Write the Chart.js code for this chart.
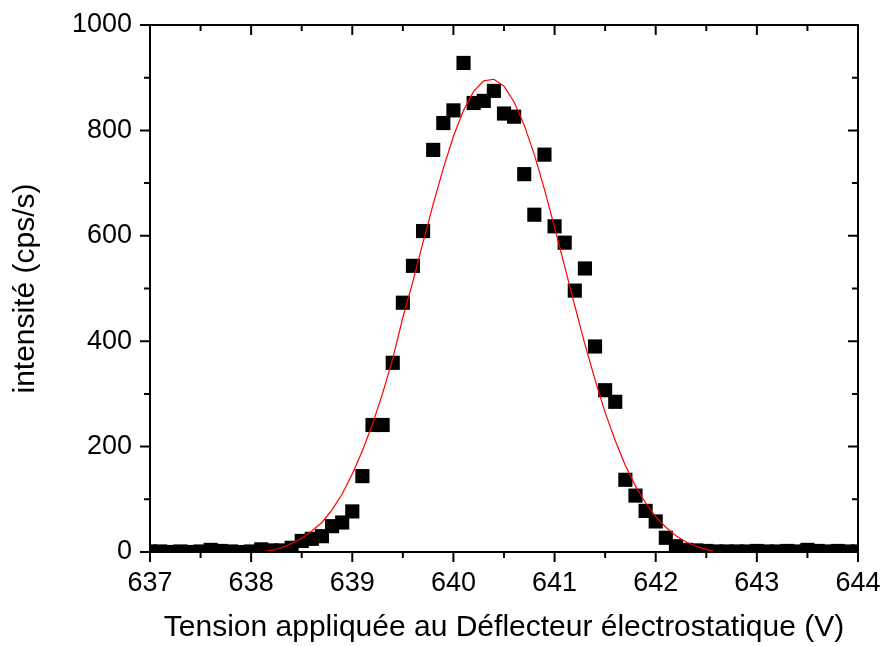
<!DOCTYPE html>
<html>
<head>
<meta charset="utf-8">
<script src="https://cdn.jsdelivr.net/npm/chart.js@4.4.0/dist/chart.umd.min.js"></script>
<style>
    html, body { margin: 0; padding: 0; background: #fff; }
</style>
</head>
<body>
<canvas id="peakChart" width="882" height="646"></canvas>
<script>
// measured points (V, cps/s)
const voltages = [
    637.0, 637.1, 637.2, 637.3, 637.4, 637.5, 637.6, 637.7, 637.8, 637.9,
    638.0, 638.1, 638.2, 638.3, 638.4, 638.5, 638.6, 638.7, 638.8, 638.9,
    639.0, 639.1, 639.2, 639.3, 639.4, 639.5, 639.6, 639.7, 639.8, 639.9,
    640.0, 640.1, 640.2, 640.3, 640.4, 640.5, 640.6, 640.7, 640.8, 640.9,
    641.0, 641.1, 641.2, 641.3, 641.4, 641.5, 641.6, 641.7, 641.8, 641.9,
    642.0, 642.1, 642.2, 642.3, 642.4, 642.5, 642.6, 642.7, 642.8, 642.9,
    643.0, 643.1, 643.2, 643.3, 643.4, 643.5, 643.6, 643.7, 643.8, 643.9,
    644.0
];
const counts = [
    1, 1, 0, 1, 0, 1, 4, 2, 1, 0,
    1, 5, 3, 3, 8, 21, 25, 30, 49, 56,
    77, 144, 241, 241, 359, 473, 543, 609, 763, 814,
    838, 928, 852, 856, 875, 832, 826, 717, 640, 754,
    618, 587, 496, 538, 390, 307, 285, 137, 107, 78,
    58, 27, 11, 4, 3, 2, 1, 1, 1, 1,
    2, 1, 1, 2, 1, 4, 2, 1, 2, 1,
    1
];

// fitted curve (red)
const fitVoltages = [
    638.1, 638.2, 638.3, 638.4, 638.5, 638.6, 638.7, 638.8, 638.9,
    639.0, 639.1, 639.2, 639.3, 639.4, 639.5, 639.6, 639.7, 639.8, 639.9,
    640.0, 640.1, 640.2, 640.3, 640.4, 640.5, 640.6, 640.7, 640.8, 640.9,
    641.0, 641.1, 641.2, 641.3, 641.4, 641.5, 641.6, 641.7, 641.8, 641.9,
    642.0, 642.1, 642.2, 642.3, 642.4, 642.5, 642.6
];
const fitCounts = [
    0, 3, 8, 16, 26, 40, 56, 80, 110,
    148, 192, 243, 301, 367, 445, 514, 588, 660, 728,
    789, 838, 874, 894, 897, 884, 854, 810, 754, 688,
    616, 542, 467, 394, 327, 265, 211, 164, 125, 93,
    67, 47, 31, 19, 11, 5, 0
];

const xTicks = [637, 638, 639, 640, 641, 642, 643, 644];
const yTicks = [0, 200, 400, 600, 800, 1000];
const xTitle = "Tension appliquée au Déflecteur électrostatique (V)";
const yTitle = "intensité (cps/s)";

// Origin style frame: ticks out on bottom/left, in on top/right, with minor ticks
const frameTicks = {
    id: "frameTicks",
    afterDraw(chart) {
        const { ctx, chartArea: a } = chart;
        const x = chart.scales.x;
        const y = chart.scales.y;
        const major = 10, minor = 6;
        ctx.save();
        ctx.strokeStyle = "#000";
        ctx.lineWidth = 2;
        ctx.strokeRect(a.left, a.top, a.right - a.left, a.bottom - a.top);
        ctx.beginPath();
        xTicks.forEach((v, i) => {
            const px = x.getPixelForValue(v);
            ctx.moveTo(px, a.bottom); ctx.lineTo(px, a.bottom + major);
            ctx.moveTo(px, a.top); ctx.lineTo(px, a.top + major);
            if (i < xTicks.length - 1) {
                const m = x.getPixelForValue((v + xTicks[i + 1]) / 2);
                ctx.moveTo(m, a.bottom); ctx.lineTo(m, a.bottom + minor);
                ctx.moveTo(m, a.top); ctx.lineTo(m, a.top + minor);
            }
        });
        yTicks.forEach((v, i) => {
            const py = y.getPixelForValue(v);
            ctx.moveTo(a.left, py); ctx.lineTo(a.left - major, py);
            ctx.moveTo(a.right, py); ctx.lineTo(a.right - major, py);
            if (i < yTicks.length - 1) {
                const m = y.getPixelForValue((v + yTicks[i + 1]) / 2);
                ctx.moveTo(a.left, m); ctx.lineTo(a.left - minor, m);
                ctx.moveTo(a.right, m); ctx.lineTo(a.right - minor, m);
            }
        });
        ctx.stroke();
        ctx.restore();
    }
};

document.addEventListener("DOMContentLoaded", () => {
    const ctx = document.getElementById("peakChart").getContext("2d");
    const font = "'Liberation Sans', Arial, sans-serif";

    new Chart(ctx, {
        type: "scatter",
        data: {
            datasets: [
                {
                    type: "line",
                    label: "fit",
                    data: fitVoltages.map((v, i) => ({ x: v, y: fitCounts[i] })),
                    borderColor: "#ff0000",
                    borderWidth: 1.2,
                    pointRadius: 0,
                    fill: false,
                    tension: 0,
                    clip: 0
                },
                {
                    label: "mesure",
                    data: voltages.map((v, i) => ({ x: v, y: counts[i] })),
                    pointStyle: "rect",
                    pointRadius: 10,
                    backgroundColor: "#000",
                    borderWidth: 0,
                    clip: 0
                }
            ]
        },
        options: {
            responsive: false,
            animation: false,
            devicePixelRatio: 1,
            layout: { padding: { top: 25, right: 24, left: 0, bottom: 0 } },
            plugins: {
                legend: { display: false },
                tooltip: { enabled: false }
            },
            scales: {
                x: {
                    type: "linear",
                    min: 637,
                    max: 644,
                    afterBuildTicks: s => { s.ticks = xTicks.map(v => ({ value: v })); },
                    afterFit: s => {
                        s.height = 94;
                        s.paddingLeft = 0;
                        s.paddingRight = 0;
                    },
                    grid: { display: false, drawTicks: false },
                    border: { display: false },
                    ticks: {
                        color: "#000",
                        padding: 15,
                        maxRotation: 0,
                        callback: v => String(v),
                        font: { family: font, size: 27 }
                    },
                    title: {
                        display: true,
                        text: xTitle,
                        color: "#000",
                        padding: { top: 0, bottom: 0 },
                        font: { family: font, size: 30 }
                    }
                },
                y: {
                    min: 0,
                    max: 1000,
                    afterBuildTicks: s => { s.ticks = yTicks.map(v => ({ value: v })); },
                    afterFit: s => {
                        s.width = 150;
                        s.paddingTop = 0;
                        s.paddingBottom = 0;
                    },
                    grid: { display: false, drawTicks: false },
                    border: { display: false },
                    ticks: {
                        color: "#000",
                        padding: 18,
                        callback: v => String(v),
                        font: { family: font, size: 27 }
                    },
                    title: {
                        display: true,
                        text: yTitle,
                        color: "#000",
                        padding: { top: 8, bottom: 0 },
                        font: { family: font, size: 30 }
                    }
                }
            }
        },
        plugins: [frameTicks]
    });
});
</script>
</body>
</html>
